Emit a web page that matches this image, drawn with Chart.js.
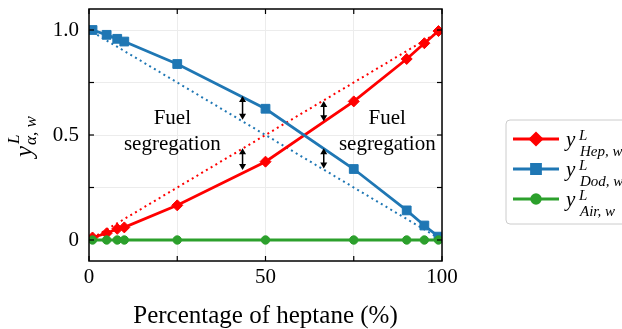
<!DOCTYPE html>
<html><head><meta charset="utf-8">
<script src="https://cdn.jsdelivr.net/npm/chart.js@4"></script>
<style>html,body{margin:0;padding:0;background:#fff;}#wrap{width:622px;height:329px;position:relative;}</style>
</head><body><div id="wrap"><canvas id="c" width="622" height="329"></canvas></div>
<script>
// ---- data ----
const heptanePct = [1, 5, 8, 10, 25, 50, 75, 90, 95, 99];
const yHep = [0.012, 0.032, 0.053, 0.06, 0.165, 0.373, 0.66, 0.862, 0.937, 0.995];
const yDod = [1.0, 0.977, 0.958, 0.945, 0.838, 0.625, 0.338, 0.141, 0.069, 0.016];
const yAir = [0, 0, 0, 0, 0, 0, 0, 0, 0, 0];
const idealX = [1, 99];
const idealHep = [0.01, 0.99];
const idealDod = [0.99, 0.01];
const xTicks = [0, 25, 50, 75, 100];
const xTickLabels = ['0', '', '50', '', '100'];
const yTicks = [0, 0.25, 0.5, 0.75, 1.0];
const yTickLabels = ['0', '', '0.5', '', '1.0'];
const arrowX = [43.5, 43.5, 66.5, 66.5];
const arrowFrom = [0.573, 0.333, 0.565, 0.341];
const arrowTo = [0.686, 0.437, 0.662, 0.437];
const noteX = [23.6, 84.5];
const noteBaseY = [0.554, 0.429];
const noteLines = ['Fuel', 'segregation'];
const legendSubs = ['Hep, w', 'Dod, w', 'Air, w'];
const xTitle = 'Percentage of heptane (%)';

const RED = '#ff0000', BLUE = '#1f77b4', GREEN = '#2ca02c';
const SERIF = '"Liberation Serif", "Times New Roman", serif';
const pts = (xs, ys) => xs.map((x, i) => ({x: x, y: ys[i]}));

const overlay = {
  id: 'overlay',
  afterDatasetsDraw(chart) {
    const ctx = chart.ctx, xs = chart.scales.x, ys = chart.scales.y;
    ctx.save();
    // arrows
    ctx.strokeStyle = '#000'; ctx.fillStyle = '#000'; ctx.lineWidth = 1.5;
    for (let i = 0; i < arrowX.length; i++) {
      const px = xs.getPixelForValue(arrowX[i]);
      const y1 = ys.getPixelForValue(arrowFrom[i]);
      const y2 = ys.getPixelForValue(arrowTo[i]);
      const hl = 6, hw = 3.5;
      ctx.beginPath(); ctx.moveTo(px, y1 - hl + 1); ctx.lineTo(px, y2 + hl - 1); ctx.stroke();
      ctx.beginPath(); ctx.moveTo(px, y2); ctx.lineTo(px - hw, y2 + hl); ctx.lineTo(px + hw, y2 + hl); ctx.closePath(); ctx.fill();
      ctx.beginPath(); ctx.moveTo(px, y1); ctx.lineTo(px - hw, y1 - hl); ctx.lineTo(px + hw, y1 - hl); ctx.closePath(); ctx.fill();
    }
    // annotations
    ctx.font = '21px ' + SERIF; ctx.textAlign = 'center'; ctx.textBaseline = 'alphabetic';
    for (let k = 0; k < noteX.length; k++) {
      for (let j = 0; j < noteLines.length; j++) {
        ctx.fillText(noteLines[j], xs.getPixelForValue(noteX[k]), ys.getPixelForValue(noteBaseY[j]));
      }
    }
    ctx.restore();
  },
  afterDraw(chart) {
    const ctx = chart.ctx, xs = chart.scales.x, ys = chart.scales.y, a = chart.chartArea;
    ctx.save();
    // frame
    ctx.strokeStyle = '#000'; ctx.lineWidth = 1.5;
    ctx.strokeRect(a.left, a.top, a.right - a.left, a.bottom - a.top);
    // inward ticks
    ctx.lineWidth = 1.2;
    const tl = 5;
    xTicks.forEach(v => {
      const p = xs.getPixelForValue(v);
      ctx.beginPath(); ctx.moveTo(p, a.bottom); ctx.lineTo(p, a.bottom - tl); ctx.stroke();
      ctx.beginPath(); ctx.moveTo(p, a.top); ctx.lineTo(p, a.top + tl); ctx.stroke();
    });
    yTicks.forEach(v => {
      const p = ys.getPixelForValue(v);
      ctx.beginPath(); ctx.moveTo(a.left, p); ctx.lineTo(a.left + tl, p); ctx.stroke();
      ctx.beginPath(); ctx.moveTo(a.right, p); ctx.lineTo(a.right - tl, p); ctx.stroke();
    });
    // x title
    ctx.fillStyle = '#000';
    ctx.font = '25px ' + SERIF; ctx.textAlign = 'center'; ctx.textBaseline = 'alphabetic';
    ctx.fillText(xTitle, (a.left + a.right) / 2, 323);
    // y title (rotated math text)
    ctx.save();
    ctx.translate(31.5, 157);
    ctx.rotate(-Math.PI / 2);
    ctx.textAlign = 'left';
    ctx.font = 'italic 25px ' + SERIF;
    ctx.fillText('y', 0, 0);
    const yw = ctx.measureText('y').width;
    ctx.font = 'italic 17px ' + SERIF;
    ctx.fillText('L', yw + 2, -13);
    ctx.fillText('\u03b1, w', yw + 1, 4);
    ctx.restore();
    // legend
    const lx = 506, ly = 120, lh = 104;
    ctx.beginPath();
    if (ctx.roundRect) ctx.roundRect(lx, ly, 140, lh, 4); else ctx.rect(lx, ly, 140, lh);
    ctx.fillStyle = 'rgba(255,255,255,0.9)'; ctx.fill();
    ctx.strokeStyle = '#cccccc'; ctx.lineWidth = 1; ctx.stroke();
    const rows = [139, 169, 199];
    const cols = [RED, BLUE, GREEN];
    const styles = ['rectRot', 'rect', 'circle'];
    const radii = [5.5, 6.2, 4.2];
    for (let i = 0; i < 3; i++) {
      const ry = rows[i];
      ctx.strokeStyle = cols[i]; ctx.lineWidth = 3;
      ctx.beginPath(); ctx.moveTo(513, ry); ctx.lineTo(559, ry); ctx.stroke();
      ctx.fillStyle = cols[i];
      Chart.helpers.drawPoint(ctx, {pointStyle: styles[i], radius: radii[i], rotation: 0, borderWidth: 1}, 536, ry);
      ctx.fill();
      ctx.fillStyle = '#000';
      ctx.textAlign = 'left'; ctx.textBaseline = 'alphabetic';
      ctx.font = 'italic 21px ' + SERIF;
      ctx.fillText('y', 566, ry + 7);
      ctx.font = 'italic 15px ' + SERIF;
      ctx.fillText('L', 579, ry + 1);
      ctx.fillText(legendSubs[i], 580, ry + 17);
    }
    ctx.restore();
  }
};

new Chart(document.getElementById('c'), {
  type: 'scatter',
  data: {
    datasets: [
      {label: 'Air', data: pts(heptanePct, yAir), showLine: true, borderColor: GREEN, backgroundColor: GREEN,
       borderWidth: 2.8, pointStyle: 'circle', pointRadius: 4.2, pointBorderWidth: 1},
      {label: 'Dod', data: pts(heptanePct, yDod), showLine: true, borderColor: BLUE, backgroundColor: BLUE,
       borderWidth: 2.8, pointStyle: 'rect', pointRadius: 6.2, pointBorderWidth: 1},
      {label: 'Hep', data: pts(heptanePct, yHep), showLine: true, borderColor: RED, backgroundColor: RED,
       borderWidth: 2.8, pointStyle: 'rectRot', pointRadius: 5.5, pointBorderWidth: 1},
      {label: 'ideal Dod', data: pts(idealX, idealDod), showLine: true, borderColor: BLUE, borderWidth: 2,
       borderDash: [2, 3.5], pointRadius: 0},
      {label: 'ideal Hep', data: pts(idealX, idealHep), showLine: true, borderColor: RED, borderWidth: 2,
       borderDash: [2, 3.5], pointRadius: 0}
    ]
  },
  options: {
    responsive: false, animation: false, devicePixelRatio: 1,
    layout: {padding: {left: 0, right: 180, top: 9, bottom: 0}},
    plugins: {legend: {display: false}, tooltip: {enabled: false}},
    scales: {
      x: {
        type: 'linear', min: 0, max: 100,
        afterBuildTicks: s => { s.ticks = xTicks.map(v => ({value: v})); },
        afterFit: s => { s.height = 68; s.paddingLeft = 0; s.paddingRight = 0; },
        ticks: {color: '#000', font: {family: SERIF, size: 21}, padding: 4, maxRotation: 0,
                callback: (v) => { const i = xTicks.indexOf(v); return i >= 0 ? xTickLabels[i] : ''; }},
        grid: {color: '#ececec', lineWidth: 1, drawTicks: false},
        border: {display: false}
      },
      y: {
        type: 'linear', min: -0.1, max: 1.1,
        afterBuildTicks: s => { s.ticks = yTicks.map(v => ({value: v})); },
        afterFit: s => { s.width = 89; s.paddingTop = 0; s.paddingBottom = 0; },
        ticks: {color: '#000', font: {family: SERIF, size: 21}, padding: 10,
                callback: (v) => { const i = yTicks.indexOf(v); return i >= 0 ? yTickLabels[i] : ''; }},
        grid: {color: '#ececec', lineWidth: 1, drawTicks: false},
        border: {display: false}
      }
    }
  },
  plugins: [overlay]
});
</script></body></html>
